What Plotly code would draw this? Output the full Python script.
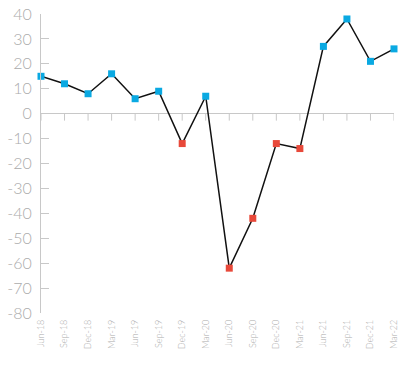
import plotly.graph_objects as go

categories = ["Jun-18", "Sep-18", "Dec-18", "Mar-19", "Jun-19", "Sep-19", "Dec-19", "Mar-20",
              "Jun-20", "Sep-20", "Dec-20", "Mar-21", "Jun-21", "Sep-21", "Dec-21", "Mar-22"]
values = [15, 12, 8, 16, 6, 9, -12, 7, -62, -42, -12, -14, 27, 38, 21, 26]
y_ticks = [40, 30, 20, 10, 0, -10, -20, -30, -40, -50, -60, -70, -80]

BLUE = "#0AA9E2"
RED = "#E8493A"
GRID = "#c8c8c8"
TXT = "#ababab"

colors = [RED if v < 0 else BLUE for v in values]
idx = list(range(len(categories)))

fig = go.Figure()

# tick marks hanging below the zero line at each category
tick_len = 2.8  # in y units (~7px)
tx, ty = [], []
for i in idx:
    tx += [i, i, None]
    ty += [0, -tick_len, None]
fig.add_trace(go.Scatter(x=tx, y=ty, mode="lines", line=dict(color=GRID, width=1),
                         showlegend=False, hoverinfo="skip"))

fig.add_trace(go.Scatter(
    x=idx, y=values, mode="lines+markers",
    line=dict(color="#111111", width=1.5),
    marker=dict(symbol="square", size=7, color=colors, line=dict(width=0)),
    showlegend=False, hoverinfo="skip", cliponaxis=False,
))

fig.update_layout(
    width=411, height=371,
    margin=dict(l=41, r=17, t=14, b=58),
    paper_bgcolor="white", plot_bgcolor="white",
    font=dict(family="Lato, sans-serif", color=TXT),
    xaxis=dict(
        range=[0, len(categories) - 1], automargin=False,
        tickmode="array", tickvals=idx, ticktext=categories,
        tickangle=-90, tickfont=dict(size=9, color=TXT, weight=300),
        showgrid=False, zeroline=False, showline=False, ticks="",
        ticklabelstandoff=4,
    ),
    yaxis=dict(
        range=[-80, 40], tickmode="array", tickvals=y_ticks, automargin=False,
        ticktext=[str(t) for t in y_ticks],
        tickfont=dict(size=16, color=TXT, weight=300),
        ticks="inside", ticklen=8, tickcolor=GRID, tickwidth=1,
        showline=True, linecolor=GRID, linewidth=1,
        showgrid=False, zeroline=True, zerolinecolor=GRID, zerolinewidth=1,
        ticklabelstandoff=5,
    ),
)

fig.write_html("out.html", config={"displayModeBar": False},
               post_script="document.body.style.margin='0';")
